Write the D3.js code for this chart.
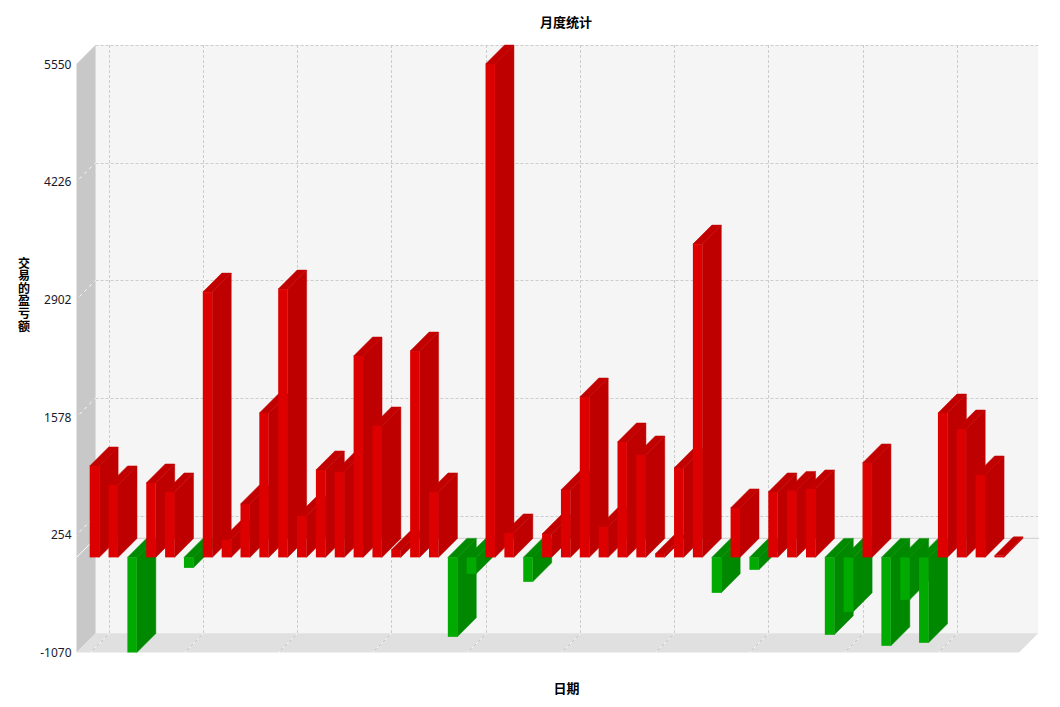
<!DOCTYPE html>
<html>
<head>
<meta charset="utf-8">
<script src="https://cdn.jsdelivr.net/npm/d3@7"></script>
<style>
html,body{margin:0;padding:0;background:#fff;}
svg{display:block;}
text{font-family:"Noto Sans","Noto Sans CJK SC",sans-serif;}
.cjk{font-family:"Noto Sans CJK SC",sans-serif;font-weight:700;font-size:13px;fill:#000;}
.vert{font-size:12px;writing-mode:vertical-rl;text-orientation:upright;letter-spacing:0.6px;}
</style>
</head>
<body>
<script>
const chartTitle = "月度统计";
const xTitle = "日期";
const yTitle = "交易的盈亏额";
const yTicks = [-1070, 254, 1578, 2902, 4226, 5550];
const values = [
  1028, 815, -1070, 837, 736, -118, 2984, 197, 601, 1624,
  3018, 466, 983, 961, 2265, 1478, 84, 2321, 736, -894,
  -185, 5550, 275, -275, 264, 759, 1804, 343, 1298, 1152,
  39, 1006, 3524, -399, 556, -140, 736, 753, 770, -871,
  -613, 1062, -995, -478, -961, 1624, 1444, 927, 17
];

const W = 1060, H = 707;
const depth = 19;
const L = 76.5, R = 1019, T = 64, B = 652.5;

const svg = d3.select("body").append("svg").attr("width", W).attr("height", H);
const y = d3.scaleLinear().domain([-1070, 5550]).range([B, T]);
const x = d3.scaleBand().domain(d3.range(values.length)).range([89.7, 1003.9]).paddingInner(0.5).paddingOuter(0);
const poly = pts => pts.map(p => p.join(",")).join(" ");

// walls
svg.append("polygon").attr("points", poly([[L+depth,T-depth],[R+depth,T-depth],[R+depth,B-depth],[L+depth,B-depth]])).attr("fill","#f5f5f5");
svg.append("polygon").attr("points", poly([[L,T],[L+depth,T-depth],[L+depth,B-depth],[L,B]])).attr("fill","#c8c8c8");
svg.append("polygon").attr("points", poly([[L,B],[L+depth,B-depth],[R+depth,B-depth],[R,B]])).attr("fill","#e0e0e0");
svg.append("line").attr("x1",L+depth).attr("x2",L+depth).attr("y1",T-depth).attr("y2",B-depth).attr("stroke","#dcdcdc").attr("stroke-width",1);
svg.append("line").attr("x1",L+depth).attr("x2",R+depth).attr("y1",B-depth).attr("y2",B-depth).attr("stroke","#e6e6e6").attr("stroke-width",1);

// horizontal grid
const grid = svg.append("g").attr("fill","none").attr("stroke","#cccccc").attr("stroke-dasharray","3,2");
yTicks.slice(1).forEach(t => {
  grid.append("line").attr("x1",L+depth).attr("x2",R+depth).attr("y1",Math.round(y(t)-depth)+0.5).attr("y2",Math.round(y(t)-depth)+0.5);
  if (t !== 5550) {
    svg.append("line").attr("x1",L+3).attr("y1",y(t)-3).attr("x2",L+depth).attr("y2",y(t)-depth)
      .attr("stroke","#ffffff").attr("stroke-dasharray","3,4");
  }
});
// vertical grid
d3.range(0, values.length, 5).forEach(i => {
  const gx = Math.round(x(i)+depth)+0.5;
  grid.append("line").attr("x1",gx).attr("x2",gx).attr("y1",T-depth).attr("y2",B-depth);
  svg.append("line").attr("x1",gx).attr("y1",B-depth).attr("x2",gx-depth).attr("y2",B)
    .attr("stroke","#f8f8f8").attr("stroke-dasharray","3,3");
  svg.append("line").attr("x1",gx).attr("y1",B-depth).attr("x2",gx-depth).attr("y2",B)
    .attr("stroke","#c4c4c4").attr("stroke-dasharray","3,3").attr("stroke-dashoffset",3);
});
// zero line
svg.append("line").attr("x1",L+depth).attr("x2",R+depth+1).attr("y1",y(0)-depth).attr("y2",y(0)-depth).attr("stroke","#d6d6d6").attr("stroke-width",1.2);
svg.append("line").attr("x1",L).attr("y1",y(0)).attr("x2",L+depth).attr("y2",y(0)-depth).attr("stroke","#ffffff").attr("stroke-width",1);

// bars
const bars = svg.append("g").selectAll("g").data(values).join("g");
const colors = v => v >= 0 ? {front:"#dd0000", side:"#bf0000", top:"#c20000"} : {front:"#00aa00", side:"#008800", top:"#008a00"};
bars.each(function(v, i) {
  const g = d3.select(this), c = colors(v);
  const x0 = x(i), x1 = x0 + x.bandwidth();
  const yT = y(Math.max(v, 0)), yB = y(Math.min(v, 0));
  g.append("polygon").attr("points", poly([[x1,yT],[x1+depth,yT-depth],[x1+depth,yB-depth],[x1,yB]])).attr("fill",c.side).attr("stroke",c.side).attr("stroke-width",0.5);
  g.append("polygon").attr("points", poly([[x0,yT],[x0+depth,yT-depth],[x1+depth,yT-depth],[x1,yT]])).attr("fill",c.top).attr("stroke",c.top).attr("stroke-width",0.5);
  g.append("rect").attr("x",x0).attr("y",yT).attr("width",x.bandwidth()).attr("height",yB-yT).attr("fill",c.front);
});

// tick labels
svg.append("g").selectAll("text").data(yTicks).join("text")
  .attr("x",71.5).attr("y",d => y(d)+4.5).attr("text-anchor","end")
  .attr("font-size","12px").attr("fill","#1a1a2a").text(d => d);

// titles
svg.append("text").attr("class","cjk").attr("x",566).attr("y",27).attr("text-anchor","middle").text(chartTitle);
svg.append("text").attr("class","cjk").attr("x",566.5).attr("y",693).attr("text-anchor","middle").text(xTitle);
svg.append("text").attr("class","cjk vert").attr("x",24).attr("y",257).text(yTitle);
</script>
</body>
</html>
